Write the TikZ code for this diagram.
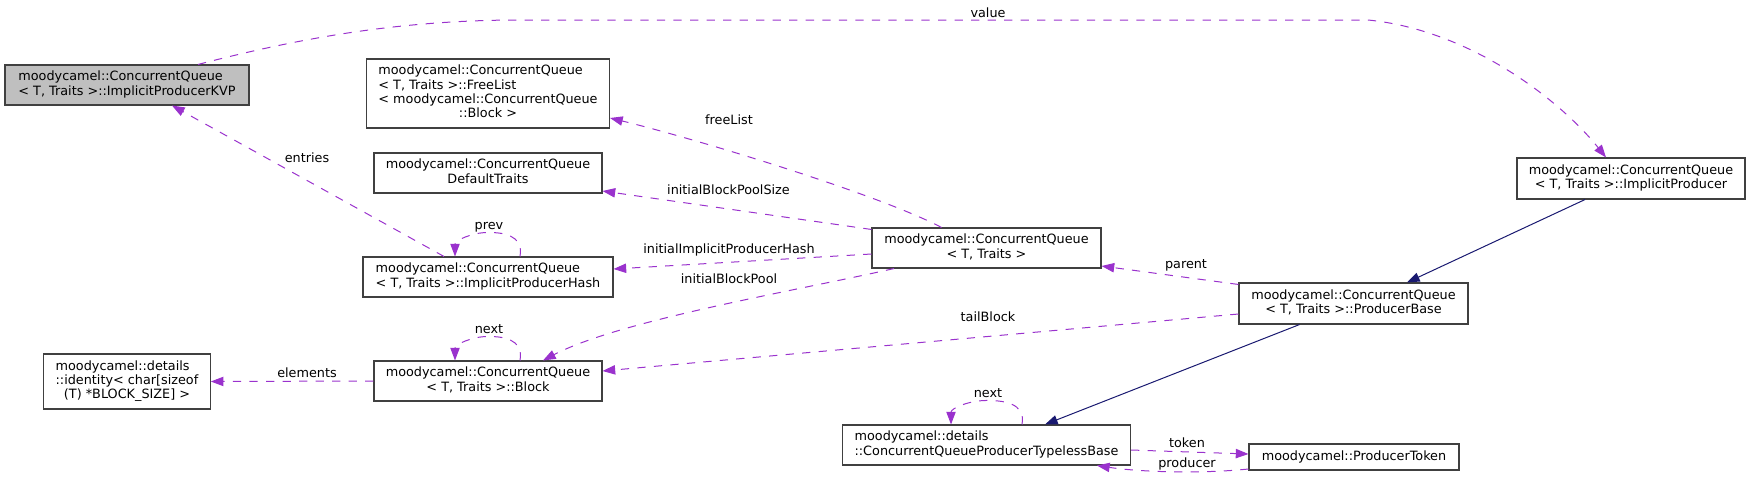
\documentclass[tikz,border=0pt]{standalone}
\usepackage{fontspec}
\setmainfont{DejaVu Sans}
\usetikzlibrary{arrows.meta,calc}
\definecolor{edgepurple}{HTML}{9A32CD}
\definecolor{inhnavy}{HTML}{191970}
\definecolor{rootgray}{HTML}{BFBFBF}
\definecolor{boxline}{HTML}{404040}
\tikzset{
  cls/.style={draw=boxline, line width=0.8pt, fill=white, inner sep=0pt,
    font=\fontsize{9.6}{10.75}\selectfont},
  usage/.style={draw=edgepurple, dash pattern=on 6.2pt off 6.2pt, line width=0.75pt,
    -{Triangle[length=9.5pt,width=7pt]}},
  inherit/.style={draw=inhnavy, line width=0.75pt,
    -{Triangle[length=9.5pt,width=7pt]}},
  elabel/.style={font=\fontsize{9.6}{10.75}\selectfont, anchor=base, inner sep=0pt},
}
\begin{document}
\begin{tikzpicture}[x=0.75pt,y=-0.75pt]
\useasboundingbox (0,0) rectangle (1751,479);

% classes
\node[cls, fill=rootgray, minimum width=183pt, minimum height=30pt] (kvp) at (127,85)
  {\begin{tabular}{@{}l@{}}moodycamel::ConcurrentQueue\\< T, Traits >::ImplicitProducerKVP\end{tabular}};
\node[cls, minimum width=182.25pt, minimum height=51.75pt] (freelist) at (488,93.5)
  {\begin{tabular}{@{}l@{}}moodycamel::ConcurrentQueue\\< T, Traits >::FreeList\\< moodycamel::ConcurrentQueue\\\multicolumn{1}{@{}c@{}}{::Block >}\end{tabular}};
\node[cls, minimum width=171pt, minimum height=30pt] (deftraits) at (488,173)
  {\begin{tabular}{@{}c@{}}moodycamel::ConcurrentQueue\\DefaultTraits\end{tabular}};
\node[cls, minimum width=187.5pt, minimum height=30pt] (hash) at (488,277)
  {\begin{tabular}{@{}l@{}}moodycamel::ConcurrentQueue\\< T, Traits >::ImplicitProducerHash\end{tabular}};
\node[cls, minimum width=124.9pt, minimum height=41.25pt] (identity) at (127,381.5)
  {\begin{tabular}{@{}l@{}}moodycamel::details\\::identity< char[sizeof\\\multicolumn{1}{@{}c@{}}{(T) *BLOCK\_SIZE] >}\end{tabular}};
\node[cls, minimum width=171pt, minimum height=30pt] (block) at (488,381)
  {\begin{tabular}{@{}c@{}}moodycamel::ConcurrentQueue\\< T, Traits >::Block\end{tabular}};
\node[cls, minimum width=171.75pt, minimum height=30pt] (cq) at (986.5,248)
  {\begin{tabular}{@{}c@{}}moodycamel::ConcurrentQueue\\< T, Traits >\end{tabular}};
\node[cls, minimum width=216pt, minimum height=30pt] (typeless) at (986.5,445)
  {\begin{tabular}{@{}l@{}}moodycamel::details\\::ConcurrentQueueProducerTypelessBase\end{tabular}};
\node[cls, minimum width=171pt, minimum height=30.75pt] (implprod) at (1631,178.5)
  {\begin{tabular}{@{}c@{}}moodycamel::ConcurrentQueue\\< T, Traits >::ImplicitProducer\end{tabular}};
\node[cls, minimum width=171.75pt, minimum height=30.75pt] (pbase) at (1353.5,303.5)
  {\begin{tabular}{@{}c@{}}moodycamel::ConcurrentQueue\\< T, Traits >::ProducerBase\end{tabular}};
\node[cls, minimum width=157.5pt, minimum height=19.5pt] (ptoken) at (1354,457)
  {moodycamel::ProducerToken};

% usage edges
\draw[usage] ($(kvp.north)+(71,0)$) .. controls (300,38) and (400,20) .. (520,20)
  -- (1368,20) .. controls (1470,30) and (1560,100) .. ($(implprod.north)+(-25,0)$);
\node[elabel] (lvalue) at (988,17) {value};

\draw[usage] ($(hash.north)+(-44,0)$) -- ($(kvp.south)+(45,0)$);
\node[elabel] (lentries) at (307,162) {entries};

\draw[usage] ($(hash.north)+(32,0)$) .. controls ($(hash.north)+(36,-22)$) and ($(hash.north)+(14,-24)$) .. ($(hash.north)+(0,-24)$)
  .. controls ($(hash.north)+(-16,-24)$) and ($(hash.north)+(-33,-16)$) .. ($(hash.north)+(-33,0)$);
\node[elabel] (lprev) at (489,229) {prev};

\draw[usage] ($(cq.north)+(-45,0)$) .. controls (880,195) and (700,140) .. ($(freelist.east)+(0,24.5)$);
\node[elabel] (lfree) at (729,124) {freeList};

\draw[usage] ($(cq.north west)+(0,2)$) -- ($(deftraits.east)+(0,18)$);
\node[elabel] (lbps) at (728.5,194) {initialBlockPoolSize};

\draw[usage] ($(cq.west)+(0,6)$) -- ($(hash.east)+(0,-8)$);
\node[elabel] (liph) at (729,253) {initialImplicitProducerHash};

\draw[usage] ($(cq.south)+(-92.5,0)$) .. controls (800,290) and (620,320) .. ($(block.north)+(55,0)$);
\node[elabel] (lbp) at (729,283) {initialBlockPool};

\draw[usage] ($(block.north)+(32,0)$) .. controls ($(block.north)+(36,-22)$) and ($(block.north)+(14,-24)$) .. ($(block.north)+(0,-24)$)
  .. controls ($(block.north)+(-16,-24)$) and ($(block.north)+(-33,-16)$) .. ($(block.north)+(-33,0)$);
\node[elabel] (lnext1) at (489,333) {next};

\draw[usage] (block.west) -- (identity.east);
\node[elabel] (lelem) at (307,377) {elements};

\draw[usage] ($(pbase.west)+(0,10.5)$) -- ($(block.east)+(0,-10)$);
\node[elabel] (ltail) at (988,321) {tailBlock};

\draw[usage] ($(pbase.north west)+(0,2)$) -- ($(cq.east)+(0,18)$);
\node[elabel] (lparent) at (1186,268) {parent};

\draw[usage] ($(typeless.north)+(35.5,0)$) .. controls ($(typeless.north)+(39.5,-22)$) and ($(typeless.north)+(16,-24)$) .. ($(typeless.north)+(0,-24)$)
  .. controls ($(typeless.north)+(-18,-24)$) and ($(typeless.north)+(-35.5,-16)$) .. ($(typeless.north)+(-35.5,0)$);
\node[elabel] (lnext2) at (988,397) {next};

\draw[usage] ($(typeless.east)+(0,5)$) -- ($(ptoken.west)+(0,-3)$);
\node[elabel] (ltoken) at (1187,447) {token};

\draw[usage] ($(ptoken.west)+(0,12)$) .. controls (1200,474) and (1140,472) .. ($(typeless.south)+(110.5,0)$);
\node[elabel] (lproducer) at (1187,467) {producer};

% inheritance edges
\draw[inherit] ($(implprod.south)+(-46,0)$) -- ($(pbase.north)+(53.5,0)$);
\draw[inherit] ($(pbase.south)+(-54,0)$) -- ($(typeless.north)+(58.5,0)$);
\end{tikzpicture}
\end{document}
